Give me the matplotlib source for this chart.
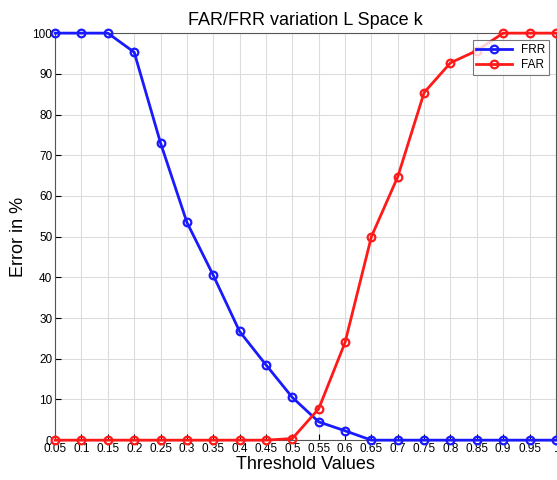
import matplotlib
matplotlib.use("Agg")
import matplotlib.pyplot as plt

plt.rcParams["font.family"] = ["Liberation Sans", "DejaVu Sans"]

thresholds = [0.05, 0.1, 0.15, 0.2, 0.25, 0.3, 0.35, 0.4, 0.45, 0.5,
              0.55, 0.6, 0.65, 0.7, 0.75, 0.8, 0.85, 0.9, 0.95, 1.0]
tick_labels = ["0.05", "0.1", "0.15", "0.2", "0.25", "0.3", "0.35", "0.4", "0.45", "0.5",
               "0.55", "0.6", "0.65", "0.7", "0.75", "0.8", "0.85", "0.9", "0.95", "1"]
frr = [100, 100, 100, 95.3, 73, 53.5, 40.5, 26.7, 18.5, 10.5,
       4.5, 2.3, 0, 0, 0, 0, 0, 0, 0, 0]
far = [0, 0, 0, 0, 0, 0, 0, 0, 0, 0.4,
       7.7, 24, 50, 64.7, 85.4, 92.7, 95.7, 100, 100, 100]

fig = plt.figure(figsize=(5.57, 4.8), dpi=100)
ax = fig.add_axes([0.099, 0.083, 0.899, 0.848])

ax.plot(thresholds, frr, color="#1a1aff", marker="o", markersize=5.5, markerfacecolor="none",
        markeredgewidth=1.6, linewidth=2, label="FRR", clip_on=False, zorder=3)
ax.plot(thresholds, far, color="#ff1a1a", marker="o", markersize=5.5, markerfacecolor="none",
        markeredgewidth=1.6, linewidth=2, label="FAR", clip_on=False, zorder=3)

ax.set_xlim(0.05, 1.0)
ax.set_ylim(0, 100)
ax.set_xticks(thresholds)
ax.set_xticklabels(tick_labels)
ax.set_yticks(range(0, 101, 10))
ax.tick_params(labelsize=8.5, direction="in", length=4, pad=2)
ax.grid(True, color="#dcdcdc", linewidth=0.8)
for s in ax.spines.values():
    s.set_color("#555555")

ax.set_title("FAR/FRR variation L Space k", fontsize=13, pad=6)
ax.set_xlabel("Threshold Values", fontsize=13, labelpad=1)
ax.set_ylabel("Error in %", fontsize=13)

leg = ax.legend(loc="upper right", fontsize=8.5, fancybox=False, edgecolor="#555555",
                borderaxespad=0.6, handlelength=3, borderpad=0.3, labelspacing=0.3)
leg.get_frame().set_linewidth(0.8)

fig.savefig("out.png", dpi=100)
